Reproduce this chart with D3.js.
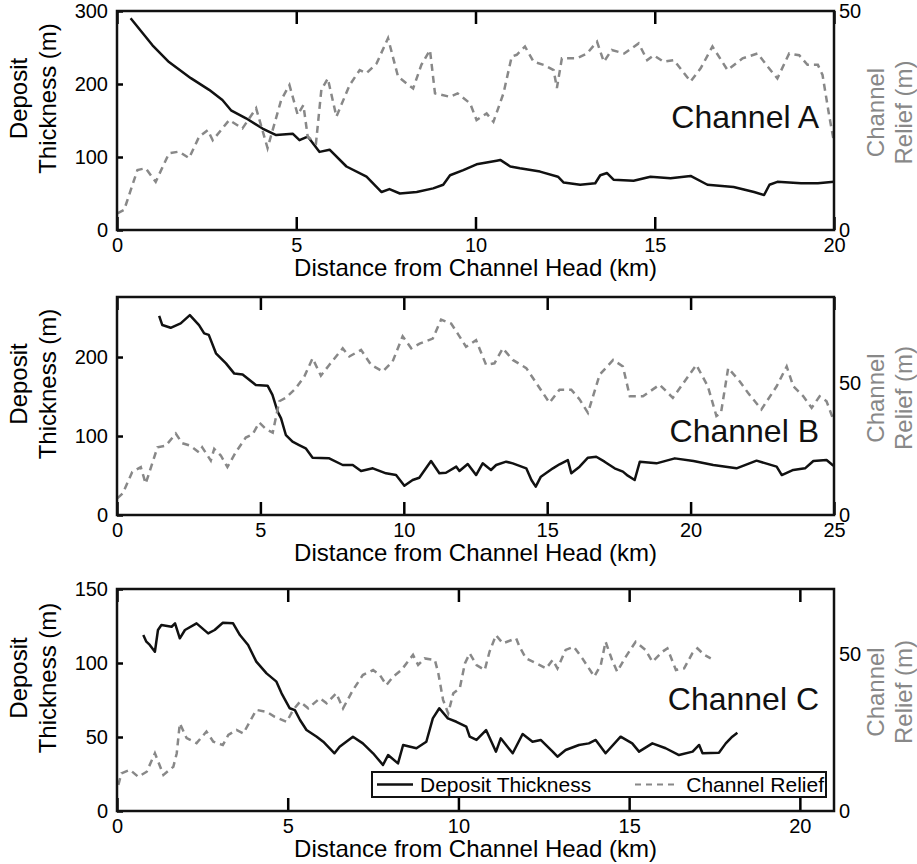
<!DOCTYPE html>
<html>
<head>
<meta charset="utf-8">
<script src="https://cdn.jsdelivr.net/npm/d3@7"></script>
<style>
    body { margin: 0; background: #fff; }
    svg text { font-family: "Liberation Sans", Arial, sans-serif; }
</style>
</head>
<body>
<script>
"use strict";

// [km, deposit thickness (m)] and [km, channel relief (m)]
const chan_a_deposit = [[0.38,290],[0.99,253],[1.45,230],[2.06,208],[2.57,192],[2.94,178],[3.18,164],[3.6,153],[4.06,139],[4.44,130],[4.9,132],[5.09,123],[5.32,128],[5.65,107],[5.93,110],[6.4,87],[6.96,73],[7.38,52],[7.6,56],[7.89,50],[8.36,52],[8.82,57],[9.1,62],[9.29,75],[9.66,82],[10.03,90],[10.59,95],[10.69,96],[10.97,87],[11.24,84.5],[11.8,80],[12.3,73],[12.46,65],[12.92,62],[13.34,64],[13.48,75],[13.67,78],[13.85,69],[14.41,67.5],[14.88,73],[15.44,71],[16.0,74],[16.47,62],[17.2,59],[17.77,52],[18.05,48],[18.2,62],[18.42,66],[19.08,64],[19.55,64],[20,66]]
const chan_a_relief = [[0.01,3.8],[0.2,4.6],[0.57,13.7],[0.8,14.1],[1.08,11.0],[1.45,17.5],[1.73,17.9],[2.01,16.4],[2.29,21.3],[2.53,22.8],[2.67,20.5],[3.13,25.1],[3.5,23.2],[3.88,27.8],[4.2,18.7],[4.58,29.7],[4.81,33.1],[5.04,26.3],[5.2,28.5],[5.32,21.3],[5.55,19.8],[5.7,32],[5.88,34.6],[6.12,25.9],[6.49,33.1],[6.77,36.5],[6.96,35.8],[7.24,38],[7.56,43.8],[7.84,35],[8.26,32.3],[8.49,37.7],[8.73,41.1],[8.87,31.2],[9.29,30.4],[9.5,31.2],[9.85,28.9],[10.03,25.1],[10.31,26.6],[10.5,24.7],[10.78,31.2],[11.01,39.6],[11.15,40],[11.38,41.9],[11.62,38.4],[11.9,37.7],[12.18,36.5],[12.27,32.4],[12.41,39.2],[12.83,39.2],[13.11,40.3],[13.39,43],[13.58,38.4],[13.8,41.1],[14.15,40.3],[14.55,42.6],[14.79,38.8],[14.97,39.9],[15.25,38.4],[15.53,38.8],[16.0,33.9],[16.28,36.9],[16.61,41.9],[17.03,36.5],[17.45,39.2],[17.87,40.3],[18.15,37.3],[18.42,34.6],[18.75,40.3],[19.03,39.9],[19.26,37.7],[19.55,37.7],[19.68,35.4],[19.87,25.9],[19.99,20.5]]

const chan_b_deposit = [[1.47,252],[1.58,240.5],[1.87,237],[2.22,242.6],[2.54,253],[2.86,240.5],[3.04,230],[3.2,228],[3.45,204.7],[3.8,192],[4.09,179],[4.38,178],[4.84,164.6],[5.25,163.7],[5.42,152],[5.6,130.8],[5.72,122.4],[5.89,101],[6.12,92.8],[6.35,88.6],[6.58,84.4],[6.82,72.6],[7.4,71.7],[7.87,63.3],[8.22,63.3],[8.51,55.7],[8.92,59.1],[9.38,52.8],[9.73,50.6],[10.02,37.1],[10.31,44.3],[10.54,47.2],[10.95,68.4],[11.24,52.8],[11.47,53.5],[11.83,61.2],[11.94,55.7],[12.23,64.6],[12.52,50.6],[12.75,65.4],[13.04,57],[13.22,63.3],[13.57,67.5],[13.8,65.4],[14.27,59.1],[14.45,44.3],[14.6,35.9],[14.78,48.5],[15.2,59.1],[15.43,64.2],[15.72,69.6],[15.84,52.8],[16.13,61.2],[16.42,72.6],[16.71,73.8],[17.0,67.5],[17.35,59.1],[17.64,54.9],[17.81,49.8],[18.05,44.3],[18.23,67.5],[18.81,65.4],[19.45,71.7],[20.1,68.4],[20.79,63.3],[21.6,59.1],[22.3,68.8],[23.0,61.2],[23.18,50.6],[23.58,57],[23.99,59.1],[24.28,68.4],[24.74,69.6],[24.98,62.4]]
const chan_b_relief = [[0.01,6.3],[0.2,8.2],[0.53,16.3],[0.83,18.2],[1.0,11.9],[1.41,25.7],[1.7,26.3],[2.05,30.9],[2.27,27.3],[2.56,26.3],[2.86,23.8],[2.97,25.7],[3.27,20.7],[3.39,25.1],[3.62,22.6],[3.85,18.2],[4.14,23.8],[4.49,29.4],[4.73,30.7],[4.96,35.1],[5.2,32.6],[5.43,31.3],[5.66,43.2],[5.89,44.5],[6.24,48.2],[6.53,52.6],[6.82,59.5],[7.11,52.9],[7.4,57],[7.87,63.3],[8.1,60.2],[8.51,62.7],[8.86,57],[9.27,54.5],[9.61,58.3],[9.96,67.9],[10.26,63.3],[10.55,65.1],[11.01,67],[11.3,74.2],[11.65,72.7],[11.88,68.9],[12.17,63.9],[12.52,66.4],[12.87,57],[13.16,57.6],[13.45,63.3],[13.8,58.9],[14.27,55.8],[14.62,50.1],[15.08,42.6],[15.43,47.6],[15.84,47.6],[16.13,43.9],[16.42,38.8],[16.83,53.3],[17.3,58.9],[17.64,56.4],[17.88,45.1],[18.34,45.1],[18.92,49.5],[19.38,44.5],[20.2,57],[20.6,48.9],[20.9,37.6],[21.06,38.8],[21.31,55.8],[21.71,50.8],[22.0,46.4],[22.47,40.1],[23.0,48.9],[23.35,56.4],[23.58,48.9],[23.93,45.1],[24.22,40.7],[24.5,45.1],[24.74,43.2],[24.95,37]]

const chan_c_deposit = [[0.77,118.9],[0.86,114.4],[0.96,112.2],[1.11,107.6],[1.2,122.3],[1.3,125.7],[1.6,124.5],[1.7,126.8],[1.84,116.7],[1.99,122.3],[2.33,126.8],[2.67,120],[2.86,122.3],[3.1,127.2],[3.4,126.8],[3.6,118.9],[3.84,112.2],[4.08,100.9],[4.38,93],[4.67,87.4],[4.82,79.5],[5.06,69.4],[5.21,68.2],[5.36,61.5],[5.55,54.7],[5.85,50.2],[6.04,46.8],[6.37,39],[6.52,43.4],[6.91,50.2],[7.2,45.7],[7.5,39],[7.79,31.1],[7.94,37.8],[8.23,32.2],[8.38,44.6],[8.77,42.4],[9.06,46.8],[9.25,62.6],[9.44,69.4],[9.69,62.6],[9.94,60.3],[10.23,57],[10.33,50.2],[10.53,48],[10.81,54.7],[11.1,40.1],[11.24,49.1],[11.59,39],[11.88,52],[12.17,46.8],[12.41,48],[12.76,40.1],[12.9,36.7],[13.14,41.2],[13.53,44.6],[13.82,45.7],[14.02,48],[14.31,39],[14.75,50.2],[15.09,45.7],[15.29,40.1],[15.68,45.7],[16.07,42.4],[16.46,37.8],[16.86,40.1],[17.05,44.6],[17.15,39],[17.63,39.4],[17.83,45.7],[18.02,50.2],[18.17,52.9]]
const chan_c_relief = [[0.04,8.3],[0.13,12],[0.38,13.1],[0.62,10.9],[0.87,12.5],[1.11,18.4],[1.36,11.5],[1.65,14.1],[1.75,18.4],[1.84,27.9],[2.04,23.2],[2.33,21.6],[2.62,25.3],[2.82,22.1],[3.1,21],[3.26,24.2],[3.5,25.8],[3.7,24.7],[4.08,32.2],[4.38,31.6],[4.62,30],[4.97,28.4],[5.16,32.2],[5.36,34.8],[5.6,32.7],[5.94,35.9],[6.14,34.3],[6.42,37.5],[6.62,32.7],[6.91,38.5],[7.2,43.3],[7.5,44.9],[7.7,43.3],[7.89,40.1],[8.09,42.8],[8.33,44.9],[8.67,49.7],[8.82,46.5],[9.01,48.6],[9.31,48.1],[9.41,43.9],[9.55,35.4],[9.7,31.1],[9.85,37.5],[10.04,39.1],[10.19,47],[10.33,50.2],[10.53,46.5],[10.77,44.9],[10.91,50.7],[11.1,56],[11.3,53.4],[11.69,55],[11.79,52.3],[11.98,48.6],[12.28,47],[12.57,45.4],[12.76,48.1],[12.9,45.4],[13.14,51.3],[13.38,52.3],[13.63,48.6],[13.98,42.8],[14.17,46.5],[14.31,53.9],[14.5,48.1],[14.65,44.4],[14.9,49.1],[15.19,53.9],[15.48,51.3],[15.68,47.5],[15.97,50.7],[16.12,51.8],[16.37,44.9],[16.61,45.4],[16.85,50.2],[17.0,51.8],[17.2,49.7],[17.39,48.6]]

const channel_names = ["Channel A", "Channel B", "Channel C"]
const x_max = [20, 25, 21]
const x_ticks = [[0, 5, 10, 15, 20], [0, 5, 10, 15, 20, 25], [0, 5, 10, 15, 20]]
const deposit_max = [300, 276, 150]
const deposit_ticks = [[0, 100, 200, 300], [0, 100, 200], [0, 50, 100, 150]]
const relief_max = [50, 82.8, 70.7]
const relief_ticks = [[0, 50], [0, 50], [0, 50]]
const legend_labels = ["Deposit Thickness", "Channel Relief"]

const WIDTH = 917
const HEIGHT = 864
const LEFT = 117
const RIGHT = 834
const panel_tops = [11, 297, 589]
const panel_bottoms = [230, 515, 811]
const name_baselines = [128, 442, 710] // where the "Channel X" text sits
const GRAY = "#888888"
const DASH = "7,5"

const svg = d3.select("body").append("svg")
    .attr("width", WIDTH)
    .attr("height", HEIGHT)

const deposits = [chan_a_deposit, chan_b_deposit, chan_c_deposit]
const reliefs = [chan_a_relief, chan_b_relief, chan_c_relief]

function drawPanel(i) {
    const top = panel_tops[i]
    const bottom = panel_bottoms[i]
    const mid = (top + bottom) / 2

    const x = d3.scaleLinear().domain([0, x_max[i]]).range([LEFT, RIGHT])
    const y = d3.scaleLinear().domain([0, deposit_max[i]]).range([bottom, top])
    const yr = d3.scaleLinear().domain([0, relief_max[i]]).range([bottom, top])

    const g = svg.append("g")

    // bottom ticks point inward, labels below
    g.append("g")
        .attr("transform", `translate(0,${bottom})`)
        .call(d3.axisBottom(x).tickValues(x_ticks[i]).tickSize(-13).tickSizeOuter(0).tickPadding(8))
        .call(a => a.select(".domain").remove())
    // top ticks, no labels
    g.append("g")
        .attr("transform", `translate(0,${top})`)
        .call(d3.axisTop(x).tickValues(x_ticks[i]).tickSize(-13).tickSizeOuter(0).tickFormat(""))
        .call(a => a.select(".domain").remove())
    g.append("g")
        .attr("transform", `translate(${LEFT},0)`)
        .call(d3.axisLeft(y).tickValues(deposit_ticks[i]).tickSize(-6).tickSizeOuter(0).tickPadding(9))
        .call(a => a.select(".domain").remove())
    g.append("g")
        .attr("transform", `translate(${RIGHT},0)`)
        .call(d3.axisRight(yr).tickValues(relief_ticks[i]).tickSize(0).tickPadding(5))
        .call(a => a.select(".domain").remove())

    g.selectAll(".tick line").attr("stroke", "#000").attr("stroke-width", 2.5)
    g.selectAll(".tick text").attr("font-size", 20).attr("fill", "#000")

    const line = d3.line().x(d => x(d[0]))
    g.append("path")
        .datum(deposits[i])
        .attr("d", line.y(d => y(d[1])))
        .attr("fill", "none")
        .attr("stroke", "#111")
        .attr("stroke-width", 2.5)
        .attr("stroke-linejoin", "round")
    g.append("path")
        .datum(reliefs[i])
        .attr("d", line.y(d => yr(d[1])))
        .attr("fill", "none")
        .attr("stroke", GRAY)
        .attr("stroke-width", 2.5)
        .attr("stroke-dasharray", DASH)

    g.append("rect")
        .attr("x", LEFT)
        .attr("y", top)
        .attr("width", RIGHT - LEFT)
        .attr("height", bottom - top)
        .attr("fill", "none")
        .attr("stroke", "#111")
        .attr("stroke-width", 2.5)

    g.append("text")
        .attr("x", RIGHT - 15)
        .attr("y", name_baselines[i])
        .attr("text-anchor", "end")
        .attr("font-size", 32)
        .attr("fill", "#111")
        .text(channel_names[i])

    g.append("text")
        .attr("x", (LEFT + RIGHT) / 2)
        .attr("y", bottom + 46)
        .attr("text-anchor", "middle")
        .attr("font-size", 24)
        .text("Distance from Channel Head (km)")

    const yl = g.append("text")
        .attr("transform", `translate(27,${mid - 22}) rotate(-90)`)
        .attr("text-anchor", "middle")
        .attr("font-size", 24)
    yl.append("tspan").attr("x", 0).attr("y", 0).text("Deposit")
    yl.append("tspan").attr("x", 0).attr("y", 29).text("Thickness (m)")

    const rl = g.append("text")
        .attr("transform", `translate(884,${mid - 8}) rotate(-90)`)
        .attr("text-anchor", "middle")
        .attr("font-size", 24)
        .attr("fill", GRAY)
    rl.append("tspan").attr("x", 0).attr("y", 0).text("Channel")
    rl.append("tspan").attr("x", 0).attr("y", 28).text("Relief (m)")

    return { g, x, y, top, bottom }
}

const panels = [0, 1, 2].map(drawPanel)

// legend sits in the last panel
function drawLegend(p) {
    const lg = p.g.append("g")
    lg.append("rect")
        .attr("x", 372)
        .attr("y", 772)
        .attr("width", 454)
        .attr("height", 25)
        .attr("fill", "#fff")
        .attr("stroke", "#111")
        .attr("stroke-width", 2)
    const ly = 784.5
    lg.append("line")
        .attr("x1", 377).attr("x2", 413)
        .attr("y1", ly).attr("y2", ly)
        .attr("stroke", "#111").attr("stroke-width", 2.5)
    lg.append("text")
        .attr("x", 420).attr("y", ly + 7.5)
        .attr("font-size", 21)
        .text(legend_labels[0])
    lg.append("line")
        .attr("x1", 635).attr("x2", 676)
        .attr("y1", ly).attr("y2", ly)
        .attr("stroke", GRAY).attr("stroke-width", 2)
        .attr("stroke-dasharray", "6,5")
    lg.append("text")
        .attr("x", 824).attr("y", ly + 7.5)
        .attr("text-anchor", "end")
        .attr("font-size", 21)
        .text(legend_labels[1])
}
drawLegend(panels[2])
</script>
</body>
</html>
